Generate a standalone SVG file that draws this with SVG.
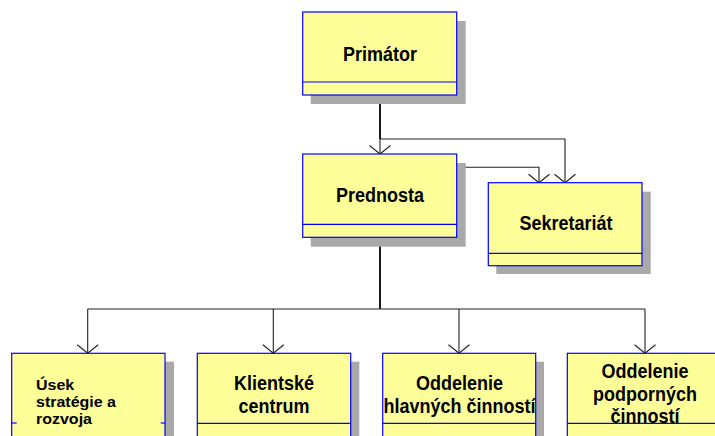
<svg xmlns="http://www.w3.org/2000/svg" width="715" height="436" viewBox="0 0 715 436">
  <style>
    .shadow { fill: #a9a9a9; }
    .box { fill: #ffff99; stroke: #0000ff; stroke-width: 1.2; }
    .div { stroke: #0000ff; stroke-width: 1.2; fill: none; }
    .lbl { font-family: "Liberation Sans", Arial, sans-serif; font-weight: bold; font-size: 18px; fill: #000; text-anchor: middle; }
    .small { font-size: 15px; text-anchor: start; }
    .conn { fill: none; stroke: #222; stroke-width: 1.1; }
    .trunk { fill: none; stroke: #000; stroke-width: 1.8; }
  </style>
  <defs>
    <marker id="arrow" markerUnits="userSpaceOnUse" markerWidth="20" markerHeight="24" viewBox="-10 -12 20 24" refX="0" refY="0" orient="auto" overflow="visible">
      <path d="M-8.5,-10.5 L0,0 L-8.5,10.5" fill="none" stroke="#222" stroke-width="1.1"/>
    </marker>
  </defs>
  <rect width="715" height="436" fill="#ffffff"/>

  <!-- connectors -->
  <g id="connectors">
    <path class="trunk" d="M380,95 V139"/>
    <path class="conn" d="M380,139 V154" marker-end="url(#arrow)"/>
    <path class="conn" d="M380,139 H565 V182.7" marker-end="url(#arrow)"/>
    <path class="conn" d="M456.7,167.3 H539 V182.7" marker-end="url(#arrow)"/>
    <path class="trunk" d="M380,237.3 V309"/>
    <path class="conn" d="M87.7,309 H645"/>
    <path class="conn" d="M87.7,309 V353.3" marker-end="url(#arrow)"/>
    <path class="conn" d="M273.3,309 V353.3" marker-end="url(#arrow)"/>
    <path class="conn" d="M459,309 V353.3" marker-end="url(#arrow)"/>
    <path class="conn" d="M645,309 V353.3" marker-end="url(#arrow)"/>
  </g>

  <!-- labels are drawn slightly tall: scale(1,1.1) about each baseline -->
  <g id="primator">
    <rect class="shadow" x="310.7" y="21" width="155" height="83"/>
    <rect class="box" x="302.7" y="12" width="154" height="83"/>
    <line class="div" x1="302.7" y1="82" x2="456.7" y2="82"/>
    <text class="lbl" transform="translate(380,61) scale(1,1.1)">Primátor</text>
  </g>

  <g id="prednosta">
    <rect class="shadow" x="310.7" y="163" width="155" height="83.7"/>
    <rect class="box" x="302.7" y="154" width="154" height="83.3"/>
    <line class="div" x1="302.7" y1="224.3" x2="456.7" y2="224.3"/>
    <text class="lbl" transform="translate(380,202.3) scale(1,1.1)">Prednosta</text>
  </g>

  <g id="sekretariat">
    <rect class="shadow" x="496.3" y="191.7" width="154.4" height="82.3"/>
    <rect class="box" x="488.3" y="182.7" width="153.7" height="83"/>
    <line class="div" x1="488.3" y1="253.3" x2="642" y2="253.3"/>
    <text class="lbl" transform="translate(566,230) scale(1,1.1)">Sekretariát</text>
  </g>

  <!-- tightly set three-line label: widened a little instead of heightened -->
  <g id="usek-strategie">
    <rect class="shadow" x="19.7" y="361.7" width="154.3" height="80"/>
    <rect class="box" x="11.7" y="353.3" width="153.3" height="90"/>
    <line class="div" x1="11.7" y1="423" x2="16.7" y2="423"/>
    <line class="div" x1="160.7" y1="423" x2="165" y2="423"/>
    <text class="lbl small" transform="translate(36,390) scale(1.066,1)">Úsek</text>
    <text class="lbl small" transform="translate(36,407.3) scale(1.066,1)">stratégie a</text>
    <text class="lbl small" transform="translate(36,424.3) scale(1.066,1)">rozvoja</text>
  </g>

  <g id="klientske-centrum">
    <rect class="shadow" x="205.3" y="361.7" width="154" height="80"/>
    <rect class="box" x="197.3" y="353.3" width="153.4" height="90"/>
    <line class="div" x1="197.3" y1="423.3" x2="350.7" y2="423.3"/>
    <text class="lbl" transform="translate(274,390) scale(1,1.1)">Klientské</text>
    <text class="lbl" transform="translate(274,412.7) scale(1,1.1)">centrum</text>
  </g>

  <g id="hlavne-cinnosti">
    <rect class="shadow" x="390.7" y="361.7" width="153.3" height="80"/>
    <rect class="box" x="382.7" y="353.3" width="153" height="90"/>
    <line class="div" x1="382.7" y1="423.3" x2="535.7" y2="423.3"/>
    <text class="lbl" transform="translate(459.5,390) scale(1,1.1)">Oddelenie</text>
    <text class="lbl" transform="translate(459.5,412.7) scale(1,1.1)">hlavných činností</text>
  </g>

  <g id="podporne-cinnosti">
    <rect class="box" x="567.3" y="353.3" width="154" height="90"/>
    <line class="div" x1="567.3" y1="423.3" x2="721" y2="423.3"/>
    <text class="lbl" transform="translate(645,378.3) scale(1,1.1)">Oddelenie</text>
    <text class="lbl" transform="translate(645,400.7) scale(1,1.1)">podporných</text>
    <text class="lbl" transform="translate(645,423.3) scale(1,1.1)">činností</text>
  </g>
</svg>
